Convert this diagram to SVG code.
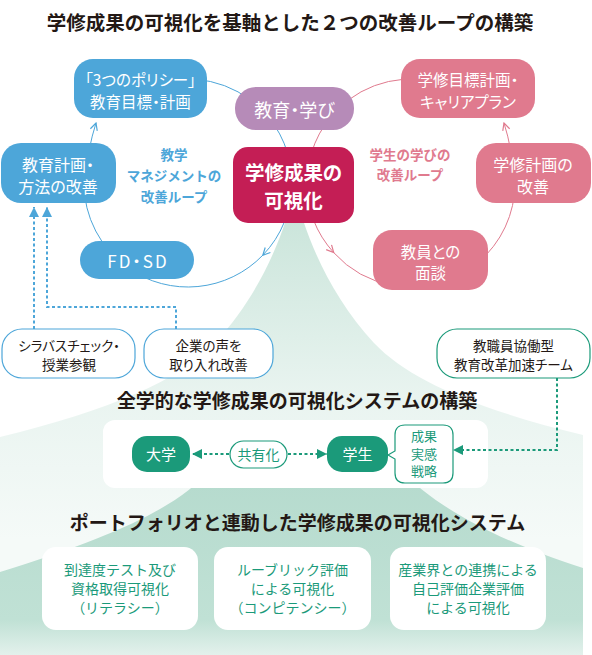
<svg xmlns="http://www.w3.org/2000/svg" width="592" height="655" viewBox="0 0 592 655">
<defs>
<linearGradient id="gPale" gradientUnits="userSpaceOnUse" x1="0" y1="220" x2="0" y2="540">
<stop offset="0" stop-color="#cbe5db"/><stop offset="0.55" stop-color="#e9f4f0"/><stop offset="1" stop-color="#f5faf8"/>
</linearGradient>
<linearGradient id="gDark" gradientUnits="userSpaceOnUse" x1="0" y1="480" x2="0" y2="655">
<stop offset="0" stop-color="#b6dbce"/><stop offset="0.8" stop-color="#c0e1d5"/><stop offset="1" stop-color="#e3f1ec"/>
</linearGradient>
<marker id="chevB" viewBox="0 0 10 10" refX="9" refY="5" markerWidth="9" markerHeight="9" markerUnits="userSpaceOnUse" orient="auto"><path d="M1,1 L9,5 L1,9" fill="none" stroke="#4da6d9" stroke-width="1.3"/></marker>
<marker id="chevP" viewBox="0 0 10 10" refX="9" refY="5" markerWidth="9" markerHeight="9" markerUnits="userSpaceOnUse" orient="auto"><path d="M1,1 L9,5 L1,9" fill="none" stroke="#e07a8e" stroke-width="1.3"/></marker>
<marker id="triB" viewBox="0 0 10 10" refX="10" refY="5" markerWidth="10" markerHeight="10" markerUnits="userSpaceOnUse" orient="auto"><path d="M0,0 L10,5 L0,10 Z" fill="#4da6d9"/></marker>
<marker id="triG" viewBox="0 0 10 10" refX="10" refY="5" markerWidth="10" markerHeight="11" markerUnits="userSpaceOnUse" orient="auto"><path d="M0,0 L10,5 L0,10 Z" fill="#1b9a7a"/></marker>
</defs>
<style>
text { font-family: "Noto Sans CJK JP", "Noto Sans", sans-serif; text-anchor: middle; }
.h { font-size: 19.5px; font-weight: 700; fill: #231815; }
.h2 { font-size: 19px; font-weight: 700; fill: #231815; }
.w { fill: #fff; font-size: 16px; font-feature-settings: "palt"; }
.lb { font-size: 13.5px; font-weight: 700; }
.dk { fill: #231815; font-size: 13.5px; font-feature-settings: "palt"; }
.gt { fill: #1b9a7a; font-size: 14px; }
.blue { fill: #4da6d9; }
.pink { fill: #e07a8e; }
.arcB { fill: none; stroke: #4da6d9; stroke-width: 1; }
.arcP { fill: none; stroke: #e07a8e; stroke-width: 1; }
.dashB { fill: none; stroke: #4da6d9; stroke-width: 2; stroke-dasharray: 3 2.5; }
.dashG { fill: none; stroke: #1b9a7a; stroke-width: 2; stroke-dasharray: 3 2.5; }
.ob { fill: #fff; stroke: #4da6d9; stroke-width: 1.2; }
.og { fill: #fff; stroke: #1b9a7a; stroke-width: 1.2; }
.wb { fill: #fff; }
</style>

<g id="background">
<path d="M286,220 C272,262 250,305 215,343 C180,380 110,410 0,437 L0,655 L583,655 L583,435 C479,410 409,380 374,343 C339,305 317,262 303,220 Z" fill="url(#gPale)"/>
<path d="M210,470 C180,505 120,535 0,572 L0,655 L583,655 L583,568 C480,535 430,500 400,470 Z" fill="url(#gDark)"/>
</g>

<g id="system-box">
<rect class="wb" x="103" y="420" width="385" height="68" rx="12"/>
</g>

<text class="h" x="290" y="30">学修成果の可視化を基軸とした２つの改善ループの構築</text>

<g id="connectors">
<path class="arcB" d="M152.4,85.3 A104,104 0 0 1 261.5,109.5"/>
<path class="arcB" d="M261.5,109.5 A104,104 0 0 1 292,183"/>
<path class="arcB" d="M292,183 A104,104 0 0 1 262.8,255.2" marker-end="url(#chevB)"/>
<path class="arcB" d="M262.8,255.2 A104,104 0 0 1 128.3,268.2"/>
<path class="arcB" d="M128.3,268.2 A104,104 0 0 1 84,183"/>
<path class="arcB" d="M84,183 Q88,148 96,123" marker-end="url(#chevB)"/>
<path class="arcP" d="M307,183 A104,104 0 0 0 333.7,252.6" marker-end="url(#chevP)"/>
<path class="arcP" d="M333.7,252.6 A104,104 0 0 0 392.9,285.4"/>
<path class="arcP" d="M392.9,285.4 A104,104 0 0 0 515,183"/>
<path class="arcP" d="M515,183 Q512,148 504,123" marker-end="url(#chevP)"/>
<path class="arcP" d="M446.6,85.3 A104,104 0 0 0 337.5,109.5"/>
<path class="arcP" d="M337.5,109.5 A104,104 0 0 0 307,183"/>
<path class="dashB" d="M34,329 V207" marker-end="url(#triB)"/>
<path class="dashB" d="M176,329 V307 H47 V207" marker-end="url(#triB)"/>
<path class="dashG" d="M557,378 V450 H453" marker-end="url(#triG)"/>
<path class="dashG" d="M229,454 H192" marker-end="url(#triG)"/>
<path class="dashG" d="M288,454 H327" marker-end="url(#triG)"/>
</g>

<g id="loop-label-blue">
<text class="lb blue" x="174" y="160">教学</text>
<text class="lb blue" x="174" y="181">マネジメントの</text>
<text class="lb blue" x="174" y="202">改善ループ</text>
</g>
<g id="loop-label-pink">
<text class="lb pink" x="410" y="160">学生の学びの</text>
<text class="lb pink" x="410" y="180">改善ループ</text>
</g>

<g id="node-policy">
<rect x="74" y="59" width="133" height="59" rx="19" fill="#4da6d9"/>
<text class="w" x="140.5" y="85.5" style="font-size:15.5px">「3つのポリシー」</text>
<text class="w" x="140.5" y="107.5" style="font-size:15.5px">教育目標・計画</text>
</g>
<g id="node-edu-learn">
<rect x="235" y="87" width="119" height="43" rx="21" fill="#b68bb8"/>
<text class="w" x="294.5" y="116.5" style="font-size:18px">教育・学び</text>
</g>
<g id="node-goal">
<rect x="401" y="59" width="134" height="59" rx="19" fill="#e07a8e"/>
<text class="w" x="468" y="85.5" style="font-size:15.5px">学修目標計画・</text>
<text class="w" x="468" y="107.5" style="font-size:15.5px">キャリアプラン</text>
</g>
<g id="node-edu-plan">
<rect x="1" y="143" width="115" height="60" rx="20" fill="#4da6d9"/>
<text class="w" x="58" y="171">教育計画・</text>
<text class="w" x="58" y="193">方法の改善</text>
</g>
<g id="node-center">
<rect x="233" y="147" width="121" height="76" rx="15" fill="#c41e55"/>
<text class="w" x="293.5" y="180" style="font-size:19.5px;font-weight:700">学修成果の</text>
<text class="w" x="293.5" y="208" style="font-size:19.5px;font-weight:700">可視化</text>
</g>
<g id="node-study-plan">
<rect x="476" y="143" width="115" height="60" rx="20" fill="#e07a8e"/>
<text class="w" x="533" y="170.5">学修計画の</text>
<text class="w" x="533" y="193">改善</text>
</g>
<g id="node-fdsd">
<rect x="80" y="241" width="114" height="38" rx="19" fill="#4da6d9"/>
<text class="w" x="138" y="268" style="font-size:17px;letter-spacing:2px">FD・SD</text>
</g>
<g id="node-interview">
<rect x="373" y="230" width="115" height="60" rx="19" fill="#e07a8e"/>
<text class="w" x="430.5" y="257.5" style="font-size:15.5px">教員との</text>
<text class="w" x="430.5" y="279" style="font-size:15.5px">面談</text>
</g>

<g id="node-syllabus">
<rect class="ob" x="2" y="329" width="133" height="49" rx="20"/>
<text class="dk" x="69" y="351">シラバスチェック・</text>
<text class="dk" x="69" y="370">授業参観</text>
</g>
<g id="node-company">
<rect class="ob" x="144" y="329" width="129" height="49" rx="20"/>
<text class="dk" x="208.5" y="351">企業の声を</text>
<text class="dk" x="208.5" y="370">取り入れ改善</text>
</g>
<g id="node-team">
<rect class="og" x="437" y="329" width="153" height="49" rx="20"/>
<text class="dk" x="513.5" y="351">教職員協働型</text>
<text class="dk" x="513.5" y="370">教育改革加速チーム</text>
</g>

<text class="h2" x="297" y="408">全学的な学修成果の可視化システムの構築</text>

<g id="node-univ">
<rect x="132" y="436" width="58" height="36" rx="15" fill="#1b9a7a"/>
<text class="w" x="161" y="459.5" style="font-size:15px">大学</text>
</g>
<g id="node-share">
<rect class="og" x="230" y="441" width="57" height="27" rx="13.5"/>
<text class="gt" x="258.5" y="459.5">共有化</text>
</g>
<g id="node-student">
<rect x="327" y="436" width="61" height="36" rx="15" fill="#1b9a7a"/>
<text class="w" x="357.5" y="459.5" style="font-size:15px">学生</text>
</g>
<g id="node-bubble">
<path class="og" d="M405,425 H443 Q453,425 453,435 V473 Q453,483 443,483 H405 Q395,483 395,473 V459 L388,455 L395,451 V435 Q395,425 405,425 Z"/>
<text class="gt" x="424" y="441" style="font-size:13px">成果</text>
<text class="gt" x="424" y="458.5" style="font-size:13px">実感</text>
<text class="gt" x="424" y="476" style="font-size:13px">戦略</text>
</g>

<text class="h2" x="297.5" y="530">ポートフォリオと連動した学修成果の可視化システム</text>

<g id="box-literacy">
<rect class="wb" x="42" y="547" width="156" height="83" rx="14"/>
<text class="gt" x="120" y="575">到達度テスト及び</text>
<text class="gt" x="120" y="594">資格取得可視化</text>
<text class="gt" x="120" y="613">（リテラシー）</text>
</g>
<g id="box-competency">
<rect class="wb" x="214" y="547" width="157" height="83" rx="14"/>
<text class="gt" x="292.5" y="575">ルーブリック評価</text>
<text class="gt" x="292.5" y="594">による可視化</text>
<text class="gt" x="292.5" y="613">（コンピテンシー）</text>
</g>
<g id="box-industry">
<rect class="wb" x="390" y="547" width="156" height="83" rx="14"/>
<text class="gt" x="468" y="575">産業界との連携による</text>
<text class="gt" x="468" y="594">自己評価企業評価</text>
<text class="gt" x="468" y="613">による可視化</text>
</g>
</svg>
